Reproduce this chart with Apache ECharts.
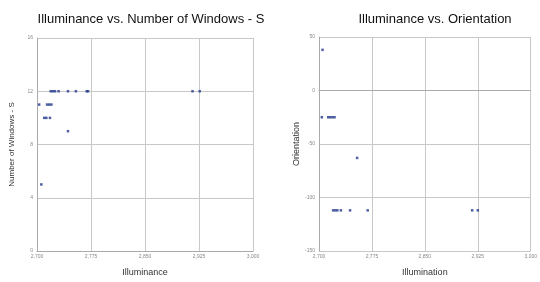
<!DOCTYPE html>
<html>
<head>
<meta charset="utf-8">
<script src="https://cdn.jsdelivr.net/npm/echarts@6/dist/echarts.min.js"></script>
<style>
  html, body { margin: 0; padding: 0; background: #fff; }
  #main { width: 540px; height: 282px; }
</style>
</head>
<body>
<div id="main"></div>
<script>
// illuminance vs number of windows
var illumWin = [2719, 2722, 2725, 2730, 2743, 2754, 2769, 2771, 2916, 2926,
                2703, 2714, 2717, 2720,
                2710, 2713, 2718,
                2743,
                2706];
var windows = [12, 12, 12, 12, 12, 12, 12, 12, 12, 12,
               11, 11, 11, 11,
               10, 10, 10,
               9,
               5];

// illuminance vs orientation
var illumOri = [2705,
                2704, 2713, 2716, 2719, 2722,
                2754,
                2720, 2723, 2726, 2731, 2744, 2769, 2917, 2925];
var orientation = [38,
                   -25, -25, -25, -25, -25,
                   -63,
                   -112, -112, -112, -112, -112, -112, -112, -112];

function pairs(xs, ys) {
    return xs.map(function (x, i) { return [x, ys[i]]; });
}

var font = 'Liberation Sans';
var gridGray = '#c8c8c8';

function xAx(idx, name) {
    return {
        gridIndex: idx, type: 'value', min: 2700, max: 3000, interval: 75,
        name: name, nameLocation: 'middle', nameGap: 17,
        nameTextStyle: { fontFamily: font, fontSize: 9, color: '#333' },
        axisLine: { lineStyle: { color: '#aaa' } },
        axisTick: { show: false },
        axisLabel: { fontFamily: font, fontSize: 5, color: '#888', margin: 3,
            formatter: function (v) { return v.toLocaleString('en-US'); } },
        splitLine: { lineStyle: { color: gridGray } }
    };
}

var chart = echarts.init(document.getElementById('main'));
chart.setOption({
    animation: false,
    title: [
        { text: 'Illuminance vs. Number of Windows - S', left: 146, top: 8, textAlign: 'center',
          textStyle: { fontFamily: font, fontSize: 13, fontWeight: 'normal', color: '#111' } },
        { text: 'Illuminance vs. Orientation', left: 430, top: 8, textAlign: 'center',
          textStyle: { fontFamily: font, fontSize: 13, fontWeight: 'normal', color: '#111' } }
    ],
    grid: [
        { left: 37, top: 38, width: 216, height: 218 },
        { left: 319, top: 37, width: 218, height: 219 }
    ],
    xAxis: [xAx(0, 'Illuminance'), xAx(1, 'Illumination')],
    yAxis: [
        {
            gridIndex: 0, type: 'value', min: 0, max: 16, interval: 4,
            name: 'Number of Windows - S', nameLocation: 'middle', nameGap: 21,
            nameTextStyle: { fontFamily: font, fontSize: 8, color: '#333' },
            axisLine: { show: true, lineStyle: { color: '#aaa' } },
            axisTick: { show: false },
            axisLabel: { fontFamily: font, fontSize: 5, color: '#888', margin: 4 },
            splitLine: { lineStyle: { color: gridGray } }
        },
        {
            gridIndex: 1, type: 'value', min: -150, max: 50, interval: 50,
            name: 'Orientation', nameLocation: 'middle', nameGap: 18,
            nameTextStyle: { fontFamily: font, fontSize: 9, color: '#333' },
            axisLine: { show: true, lineStyle: { color: '#aaa' } },
            axisTick: { show: false },
            axisLabel: { fontFamily: font, fontSize: 5, color: '#888', margin: 4 },
            splitLine: { lineStyle: { color: [gridGray, gridGray, gridGray, '#888', gridGray], width: 1 } }
        }
    ],
    series: [
        { type: 'scatter', xAxisIndex: 0, yAxisIndex: 0, symbol: 'rect', symbolSize: 2.5,
          itemStyle: { color: '#233a8c' }, data: pairs(illumWin, windows) },
        { type: 'scatter', xAxisIndex: 1, yAxisIndex: 1, symbol: 'rect', symbolSize: 2.5,
          itemStyle: { color: '#233a8c' }, data: pairs(illumOri, orientation) }
    ]
});
</script>
</body>
</html>
